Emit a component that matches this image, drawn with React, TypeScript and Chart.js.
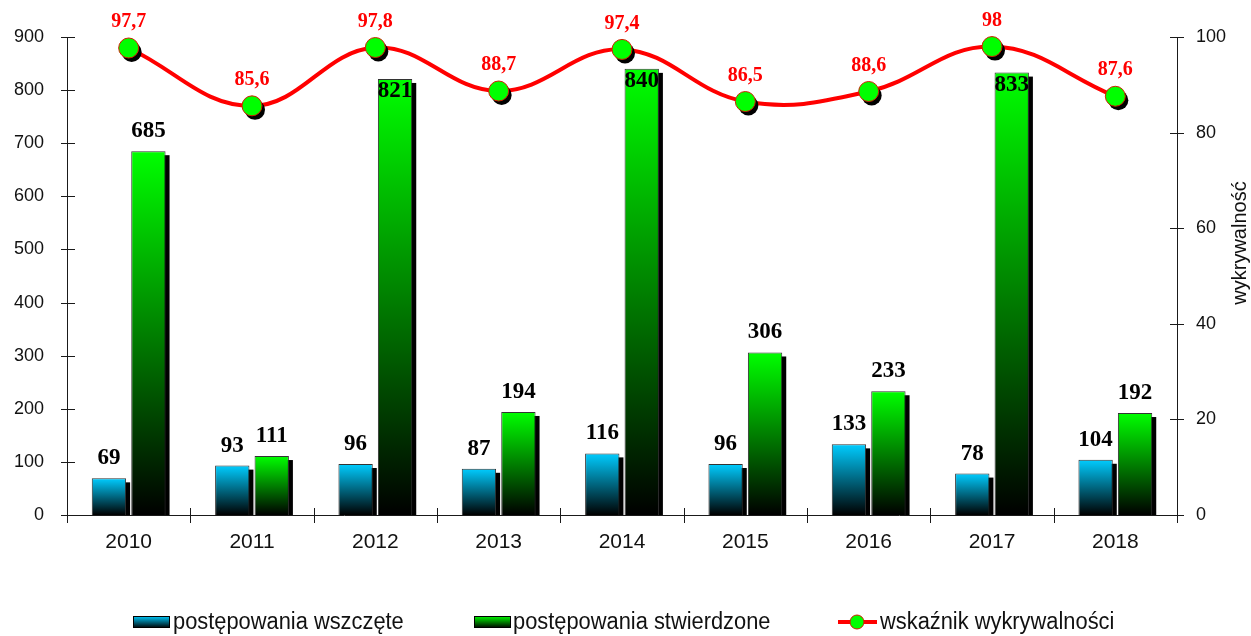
import React, { useEffect, useRef } from "react";
import { Chart, registerables } from "chart.js";

Chart.register(...registerables);

const years = ["2010", "2011", "2012", "2013", "2014", "2015", "2016", "2017", "2018"];
const wszczete = [69, 93, 96, 87, 116, 96, 133, 78, 104];
const stwierdzone = [685, 111, 821, 194, 840, 306, 233, 833, 192];
const wskaznik = [97.7, 85.6, 97.8, 88.7, 97.4, 86.5, 88.6, 98, 87.6];
const wskaznikLabels = ["97,7", "85,6", "97,8", "88,7", "97,4", "86,5", "88,6", "98", "87,6"];
const seriesNames = ["postępowania wszczęte", "postępowania stwierdzone", "wskaźnik wykrywalności"];
const rightTitle = "wykrywalność";

const LEFT_MAX = 900;
const LEFT_STEP = 100;
const RIGHT_MAX = 100;
const RIGHT_STEP = 20;

const BLUE_TOP = "#00CCFF";
const GREEN_TOP = "#00FF00";
const RED = "#FF0000";
const AXIS = "#1a1a1a";

function barGradient(c: any, topColor: string) {
  const chart = c.chart;
  if (!chart.chartArea || c.type !== "data") return topColor;
  const v = c.dataset.data[c.dataIndex];
  const ys = chart.scales.y;
  const yTop = ys.getPixelForValue(v);
  const yBot = ys.getPixelForValue(0);
  const g = chart.ctx.createLinearGradient(0, yTop, 0, yBot);
  g.addColorStop(0, topColor);
  g.addColorStop(1, "#000000");
  return g;
}

const customPlugin = {
  id: "customDraw",
  beforeDatasetsDraw(chart: any) {
    const ctx = chart.ctx;
    const area = chart.chartArea;
    ctx.save();
    ctx.strokeStyle = AXIS;
    ctx.lineWidth = 1;
    const ys = chart.scales.y;
    const y1 = chart.scales.y1;
    ctx.beginPath();
    ctx.moveTo(area.left + 0.5, area.top);
    ctx.lineTo(area.left + 0.5, area.bottom + 7);
    for (let v = 0; v <= LEFT_MAX; v += LEFT_STEP) {
      const py = Math.round(ys.getPixelForValue(v)) + 0.5;
      ctx.moveTo(area.left - 6, py);
      ctx.lineTo(area.left + 8, py);
    }
    ctx.moveTo(area.right + 0.5, area.top);
    ctx.lineTo(area.right + 0.5, area.bottom + 7);
    for (let v = 0; v <= RIGHT_MAX; v += RIGHT_STEP) {
      const py = Math.round(y1.getPixelForValue(v)) + 0.5;
      ctx.moveTo(area.right - 7, py);
      ctx.lineTo(area.right + 7, py);
    }
    ctx.moveTo(area.left, area.bottom + 0.5);
    ctx.lineTo(area.right, area.bottom + 0.5);
    const n = years.length;
    for (let i = 0; i <= n; i++) {
      const px = Math.round(area.left + (i * (area.right - area.left)) / n) + 0.5;
      ctx.moveTo(px, area.bottom - 7);
      ctx.lineTo(px, area.bottom + 8);
    }
    ctx.stroke();
    ctx.fillStyle = "#000000";
    [0, 1].forEach((di) => {
      const meta = chart.getDatasetMeta(di);
      meta.data.forEach((el: any) => {
        const w = el.width;
        const left = el.x - w / 2 + 4;
        const top = el.y + 4;
        const bottom = el.base;
        if (bottom > top) ctx.fillRect(left, top, w, bottom - top);
      });
    });
    ctx.restore();
  },
  afterDatasetsDraw(chart: any) {
    const ctx = chart.ctx;
    ctx.save();
    ctx.fillStyle = "#000000";
    ctx.font = "bold 23px 'Liberation Serif', 'Times New Roman', serif";
    ctx.textAlign = "center";
    ctx.textBaseline = "middle";
    [0, 1].forEach((di) => {
      const meta = chart.getDatasetMeta(di);
      const data = chart.data.datasets[di].data;
      meta.data.forEach((el: any, i: number) => {
        const v = data[i];
        const inside = v > 800;
        ctx.fillText(String(v), el.x, inside ? el.y + 12 : el.y - 20);
      });
    });
    const lm = chart.getDatasetMeta(2);
    lm.data.forEach((el: any, i: number) => {
      ctx.beginPath();
      ctx.fillStyle = "#000000";
      ctx.arc(el.x + 3, el.y + 4, 10, 0, Math.PI * 2);
      ctx.fill();
      ctx.beginPath();
      ctx.fillStyle = "#00FF00";
      ctx.strokeStyle = "#d02000";
      ctx.lineWidth = 1;
      ctx.arc(el.x, el.y, 10, 0, Math.PI * 2);
      ctx.fill();
      ctx.stroke();
      ctx.fillStyle = RED;
      ctx.font = "bold 20px 'Liberation Serif', 'Times New Roman', serif";
      ctx.fillText(wskaznikLabels[i], el.x, el.y - 26);
    });
    ctx.restore();
  },
  afterDraw(chart: any) {
    const ctx = chart.ctx;
    ctx.save();
    ctx.fillStyle = "#111111";
    ctx.font = "20px 'Liberation Sans', Arial, sans-serif";
    ctx.textAlign = "center";
    ctx.textBaseline = "middle";
    ctx.translate(1240, 243);
    ctx.rotate(-Math.PI / 2);
    ctx.fillText(rightTitle, 0, 0);
    ctx.restore();

    ctx.save();
    const ly = 622;
    const drawBox = (x: number, top: string) => {
      const g = ctx.createLinearGradient(0, ly - 6, 0, ly + 6);
      g.addColorStop(0, top);
      g.addColorStop(1, "#000000");
      ctx.fillStyle = g;
      ctx.fillRect(x, ly - 6, 37, 12);
      ctx.strokeStyle = "#000000";
      ctx.lineWidth = 1;
      ctx.strokeRect(x + 0.5, ly - 5.5, 36, 11);
    };
    const drawText = (x: number, t: string) => {
      ctx.save();
      ctx.fillStyle = "#111111";
      ctx.font = "23px 'Liberation Sans', Arial, sans-serif";
      ctx.textAlign = "left";
      ctx.textBaseline = "middle";
      ctx.translate(x, ly + 1);
      ctx.scale(0.95, 1);
      ctx.fillText(t, 0, 0);
      ctx.restore();
    };
    drawBox(133, BLUE_TOP);
    drawText(173, seriesNames[0]);
    drawBox(474, GREEN_TOP);
    drawText(513, seriesNames[1]);
    ctx.strokeStyle = RED;
    ctx.lineWidth = 4;
    ctx.beginPath();
    ctx.moveTo(838, ly);
    ctx.lineTo(877, ly);
    ctx.stroke();
    ctx.beginPath();
    ctx.fillStyle = "#00FF00";
    ctx.strokeStyle = "#d02000";
    ctx.lineWidth = 1;
    ctx.arc(857, ly, 7, 0, Math.PI * 2);
    ctx.fill();
    ctx.stroke();
    drawText(880, seriesNames[2]);
    ctx.restore();
  },
};

export default function App() {
  const ref = useRef<HTMLCanvasElement | null>(null);
  useEffect(() => {
    if (!ref.current) return;
    const chart = new Chart(ref.current, {
      type: "bar",
      data: {
        labels: years,
        datasets: [
          {
            type: "bar",
            label: seriesNames[0],
            data: wszczete,
            yAxisID: "y",
            order: 1,
            backgroundColor: (c: any) => barGradient(c, BLUE_TOP),
            borderColor: "#333333",
            borderWidth: 1,
            categoryPercentage: 0.64,
            barPercentage: 0.87,
          },
          {
            type: "bar",
            label: seriesNames[1],
            data: stwierdzone,
            yAxisID: "y",
            order: 2,
            backgroundColor: (c: any) => barGradient(c, GREEN_TOP),
            borderColor: "#333333",
            borderWidth: 1,
            categoryPercentage: 0.64,
            barPercentage: 0.87,
          },
          {
            type: "line",
            label: seriesNames[2],
            data: wskaznik,
            yAxisID: "y1",
            order: 0,
            borderColor: RED,
            borderWidth: 4,
            tension: 0.4,
            pointRadius: 0,
            fill: false,
          } as any,
        ],
      },
      options: {
        responsive: false,
        animation: false,
        layout: { padding: { top: 37, left: 0, right: 0, bottom: 0 } },
        plugins: { legend: { display: false }, tooltip: { enabled: false } },
        scales: {
          x: {
            grid: { display: false, drawTicks: false },
            border: { display: false },
            ticks: {
              color: "#111111",
              padding: 15,
              font: { family: "'Liberation Sans', Arial, sans-serif", size: 21 },
            },
            afterFit: (s: any) => {
              s.height = 121;
            },
          },
          y: {
            position: "left",
            min: 0,
            max: LEFT_MAX,
            grid: { display: false, drawTicks: false },
            border: { display: false },
            ticks: {
              stepSize: LEFT_STEP,
              color: "#111111",
              padding: 23,
              font: { family: "'Liberation Sans', Arial, sans-serif", size: 18 },
            },
            afterFit: (s: any) => {
              s.width = 67;
            },
          },
          y1: {
            position: "right",
            min: 0,
            max: RIGHT_MAX,
            grid: { display: false, drawTicks: false },
            border: { display: false },
            ticks: {
              stepSize: RIGHT_STEP,
              color: "#111111",
              padding: 19,
              font: { family: "'Liberation Sans', Arial, sans-serif", size: 18 },
            },
            afterFit: (s: any) => {
              s.width = 74;
            },
          },
        },
      },
      plugins: [customPlugin],
    });
    return () => chart.destroy();
  }, []);
  return (
    <div style={{ position: "fixed", left: 0, top: 0, width: 1251, height: 636, background: "#fff" }}>
      <canvas ref={ref} width={1251} height={636} />
    </div>
  );
}
